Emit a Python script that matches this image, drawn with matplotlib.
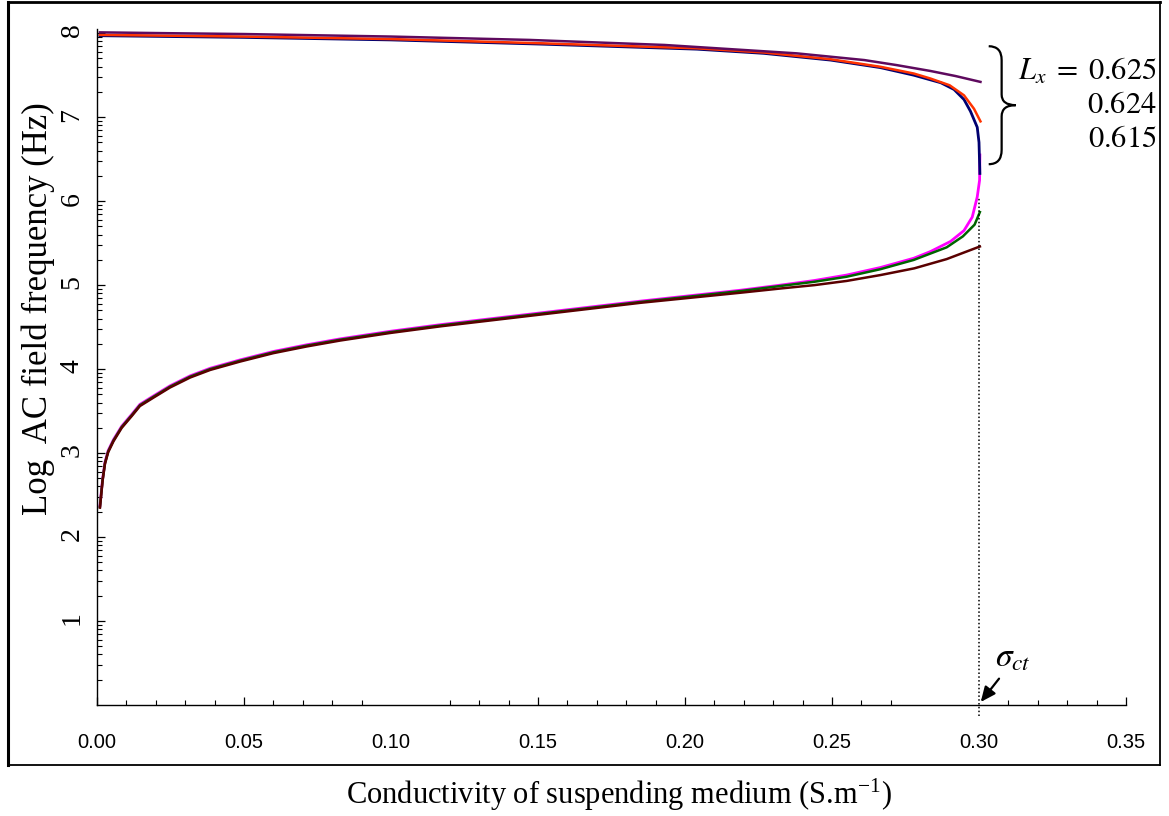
import numpy as np
import matplotlib
matplotlib.use('Agg')
import matplotlib.pyplot as plt
from matplotlib.path import Path
from matplotlib.patches import PathPatch
from matplotlib.lines import Line2D

plt.rcParams['font.family'] = ['Liberation Serif', 'DejaVu Serif']
plt.rcParams['mathtext.fontset'] = 'stix'

# ---- data (sigma in S/m, log10 of frequency in Hz) ----
# upper branch
sig_up_625 = [0.001, 0.024, 0.05, 0.10, 0.147, 0.193, 0.238, 0.261, 0.272, 0.2835, 0.292, 0.3005]
logf_up_625 = [8.01, 8.00, 7.99, 7.96, 7.92, 7.86, 7.76, 7.68, 7.62, 7.55, 7.49, 7.42]

sig_up_624 = [0.001, 0.05, 0.10, 0.151, 0.204, 0.2268, 0.2495, 0.2665, 0.2778, 0.2835, 0.290, 0.2949, 0.2983, 0.3005]
logf_up_624 = [7.98, 7.96, 7.93, 7.88, 7.82, 7.77, 7.69, 7.60, 7.52, 7.46, 7.38, 7.26, 7.10, 6.95]

sig_up_615 = [0.001, 0.05, 0.10, 0.151, 0.204, 0.2268, 0.2495, 0.2665, 0.2778, 0.287, 0.2915, 0.2949, 0.2971, 0.2994, 0.3000, 0.3003]
logf_up_615 = [7.97, 7.95, 7.92, 7.87, 7.81, 7.76, 7.68, 7.59, 7.50, 7.41, 7.33, 7.21, 7.07, 6.88, 6.70, 6.33]

# lower branch
sig_low_615 = [0.001, 0.0019, 0.0027, 0.0038, 0.0056, 0.0084, 0.0118, 0.0146, 0.0192, 0.0248, 0.0317,
               0.0385, 0.0487, 0.060, 0.0714, 0.0827, 0.0997, 0.117, 0.151, 0.185, 0.219, 0.2325, 0.244,
               0.255, 0.2665, 0.2778, 0.2835, 0.2903, 0.2949, 0.2977, 0.2994, 0.3002, 0.3003]
logf_low_615 = [2.37, 2.69, 2.89, 3.03, 3.16, 3.32, 3.46, 3.58, 3.68, 3.80, 3.92,
                4.01, 4.11, 4.21, 4.29, 4.36, 4.45, 4.53, 4.67, 4.81, 4.94, 5.00, 5.055,
                5.12, 5.21, 5.32, 5.40, 5.52, 5.65, 5.81, 6.05, 6.25, 6.55]

sig_low_624 = [0.001, 0.0019, 0.0027, 0.0038, 0.0056, 0.0084, 0.0118, 0.0146, 0.0192, 0.0248, 0.0317,
               0.0385, 0.0487, 0.060, 0.0714, 0.0827, 0.0997, 0.117, 0.151, 0.185, 0.219, 0.2325, 0.244,
               0.255, 0.2665, 0.2778, 0.289, 0.2945, 0.2985, 0.3003]
logf_low_624 = [2.36, 2.68, 2.88, 3.02, 3.15, 3.31, 3.45, 3.57, 3.67, 3.79, 3.91,
                4.00, 4.10, 4.20, 4.28, 4.35, 4.44, 4.52, 4.66, 4.80, 4.93, 4.99, 5.04,
                5.10, 5.19, 5.30, 5.45, 5.58, 5.72, 5.87]

sig_low_625 = [0.001, 0.0019, 0.0027, 0.0038, 0.0056, 0.0084, 0.0118, 0.0146, 0.0192, 0.0248, 0.0317,
               0.0385, 0.0487, 0.060, 0.0714, 0.0827, 0.0997, 0.117, 0.151, 0.185, 0.219, 0.2325, 0.244,
               0.255, 0.2665, 0.278, 0.289, 0.3003]
logf_low_625 = [2.35, 2.67, 2.87, 3.01, 3.14, 3.30, 3.44, 3.56, 3.66, 3.78, 3.90,
                3.99, 4.09, 4.19, 4.27, 4.34, 4.43, 4.51, 4.65, 4.79, 4.91, 4.96, 5.00,
                5.05, 5.12, 5.20, 5.31, 5.46]

sigma_ct = 0.30
lx_labels = [r'$L_x\;=\;0.625$', '$0.624$', '$0.615$']
x_tick_labels = ['0.00', '0.05', '0.10', '0.15', '0.20', '0.25', '0.30', '0.35']

# ---- figure ----
fig = plt.figure(figsize=(11.69, 8.16), dpi=100)
ax = fig.add_axes([97 / 1169, 111 / 816, 1029 / 1169, 676 / 816])

ax.plot(sig_low_615, logf_low_615, color='#ff00ff', lw=2.0)
ax.plot(sig_low_624, logf_low_624, color='#006400', lw=1.8)
ax.plot(sig_low_625, logf_low_625, color='#5a0000', lw=1.8)
ax.plot(sig_up_615, logf_up_615, color='#000070', lw=2.0)
ax.plot(sig_up_624, logf_up_624, color='#ff3300', lw=1.8)
ax.plot(sig_up_625, logf_up_625, color='#5e0a5e', lw=1.8)

# dotted marker at the crossover conductivity
ax.plot([sigma_ct, sigma_ct], [-0.13, 6.05], ls=(0, (1, 1.5)), color='k', lw=1.1, clip_on=False)

ax.set_xlim(0, 0.35)
ax.set_ylim(0, 8.05)

for s in ['top', 'right']:
    ax.spines[s].set_visible(False)
for s in ['left', 'bottom']:
    ax.spines[s].set_linewidth(1.0)

# x ticks
ax.set_xticks(np.arange(0, 0.351, 0.05))
ax.set_xticklabels(x_tick_labels, fontfamily='Liberation Sans', fontsize=14.5)
minor_x = [0.01, 0.02, 0.03, 0.04, 0.06, 0.07, 0.08, 0.09, 0.12, 0.13, 0.14, 0.16, 0.17, 0.18,
           0.19, 0.21, 0.22, 0.23, 0.24, 0.26, 0.27, 0.31, 0.32, 0.33, 0.34]
ax.set_xticks(minor_x, minor=True)
ax.tick_params(axis='x', which='major', direction='in', length=5.5, width=0.9, pad=20)
ax.tick_params(axis='x', which='minor', direction='in', length=3.6, width=0.8)
for i in (2, 6):
    ax.xaxis.get_major_ticks()[i].tick1line.set_visible(False)

# y ticks: integer log values with log-spaced minor ticks
ax.set_yticks(range(1, 9))
ax.set_yticklabels([str(v) for v in range(1, 9)], fontsize=20)
minor_y = [d + np.log10(k) for d in range(0, 8) for k in range(2, 10)]
ax.set_yticks(minor_y, minor=True)
ax.tick_params(axis='y', which='major', direction='in', length=5.5, width=0.9, pad=9, labelrotation=90)
ax.tick_params(axis='y', which='minor', direction='in', length=3.6, width=0.8)

# axis titles
fig.text(619 / 1169, 1 - 795 / 816, r'Conductivity of suspending medium (S.m$^{\mathregular{-1}}$)',
         ha='center', va='center', fontsize=22)
fig.text(38 / 1169, 1 - 309 / 816, 'Log  AC field frequency (Hz)', rotation=90,
         ha='center', va='center', fontsize=25)

# brace and L_x labels
bx0, bx1, bx2 = 0.3033, 0.3077, 0.3125
verts = [(bx0, 7.845), (bx1, 7.845), (bx1, 7.68), (bx1, 7.27), (bx1, 7.143), (bx2, 7.143),
         (bx1, 7.143), (bx1, 7.01), (bx1, 6.61), (bx1, 6.44), (bx0, 6.44)]
codes = [Path.MOVETO, Path.CURVE3, Path.CURVE3, Path.LINETO, Path.CURVE3, Path.CURVE3,
         Path.CURVE3, Path.CURVE3, Path.LINETO, Path.CURVE3, Path.CURVE3]
ax.add_patch(PathPatch(Path(verts, codes), fill=False, lw=1.6, color='k', clip_on=False))
for lab, yb in zip(lx_labels, [7.44, 7.05, 6.65]):
    ax.text(0.3605, yb, lab, ha='right', va='baseline', fontsize=22, clip_on=False)

# sigma_ct arrow
ax.annotate('', xy=(sigma_ct, 0.01), xytext=(0.3074, 0.34),
            arrowprops=dict(arrowstyle='-|>,head_length=0.9,head_width=0.4', color='k', lw=1.6),
            annotation_clip=False)
ax.text(0.3115, 0.56, r'$\sigma_{ct}$', ha='center', va='center', fontsize=24)

# outer frame
fx0, fx1 = 8 / 1169, 1160 / 1169
fy0, fy1 = 1 - 765 / 816, 1 - 2 / 816
fig.add_artist(Line2D([fx0, fx0], [fy0, fy1], color='k', lw=2.2))
fig.add_artist(Line2D([fx0, fx1], [fy1, fy1], color='k', lw=2.0))
fig.add_artist(Line2D([fx1, fx1], [fy0, fy1], color='k', lw=1.3))
fig.add_artist(Line2D([fx0, fx1], [fy0, fy0], color='k', lw=1.3))

fig.savefig('out.png', dpi=100)
